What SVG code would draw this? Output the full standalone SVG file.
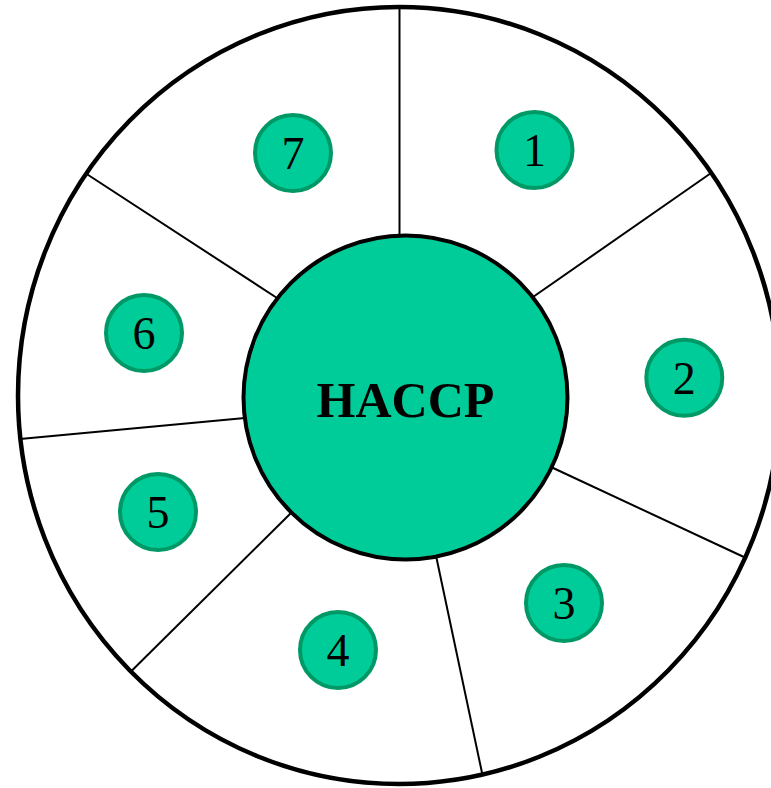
<svg xmlns="http://www.w3.org/2000/svg" width="771" height="788" viewBox="0 0 771 788">
<style>
.spoke{stroke:#000;stroke-width:2;fill:none}
.step circle{fill:#00CC99;stroke:#009966;stroke-width:4}
.step text{font-family:"Liberation Serif","Times New Roman",serif;font-size:46px;fill:#000;text-anchor:middle}
</style>
<rect width="771" height="788" fill="#fff"/>
<g id="outer">
<ellipse cx="399" cy="395.5" rx="381" ry="388.5" fill="#fff" stroke="#000" stroke-width="4.5"/>
</g>
<g id="connectors">
<line class="spoke" x1="399.5" y1="9" x2="399.5" y2="237"/>
<line class="spoke" x1="710.7" y1="173.3" x2="533" y2="297"/>
<line class="spoke" x1="746" y1="558" x2="551" y2="467"/>
<line class="spoke" x1="482.7" y1="776" x2="436.5" y2="558"/>
<line class="spoke" x1="130.7" y1="671.7" x2="291" y2="513"/>
<line class="spoke" x1="20" y1="439" x2="245" y2="418"/>
<line class="spoke" x1="86.7" y1="174" x2="277" y2="298"/>
</g>
<g id="haccp">
<circle cx="405.5" cy="397.5" r="162" fill="#00CC99" stroke="#000" stroke-width="4"/>
<text x="405.5" y="417" font-family="'Liberation Serif','Times New Roman',serif" font-size="50" font-weight="bold" text-anchor="middle" fill="#000">HACCP</text>
</g>
<g id="step1" class="step"><circle cx="534.5" cy="150" r="38"/><text x="534.5" y="166">1</text></g>
<g id="step2" class="step"><circle cx="684.3" cy="377.7" r="38"/><text x="684.3" y="394">2</text></g>
<g id="step3" class="step"><circle cx="564" cy="603" r="38"/><text x="564" y="619">3</text></g>
<g id="step4" class="step"><circle cx="338" cy="650" r="38"/><text x="338" y="666">4</text></g>
<g id="step5" class="step"><circle cx="158" cy="512" r="38"/><text x="158" y="528">5</text></g>
<g id="step6" class="step"><circle cx="144" cy="333" r="38"/><text x="144" y="349">6</text></g>
<g id="step7" class="step"><circle cx="293" cy="153" r="38"/><text x="293" y="169">7</text></g>
</svg>
